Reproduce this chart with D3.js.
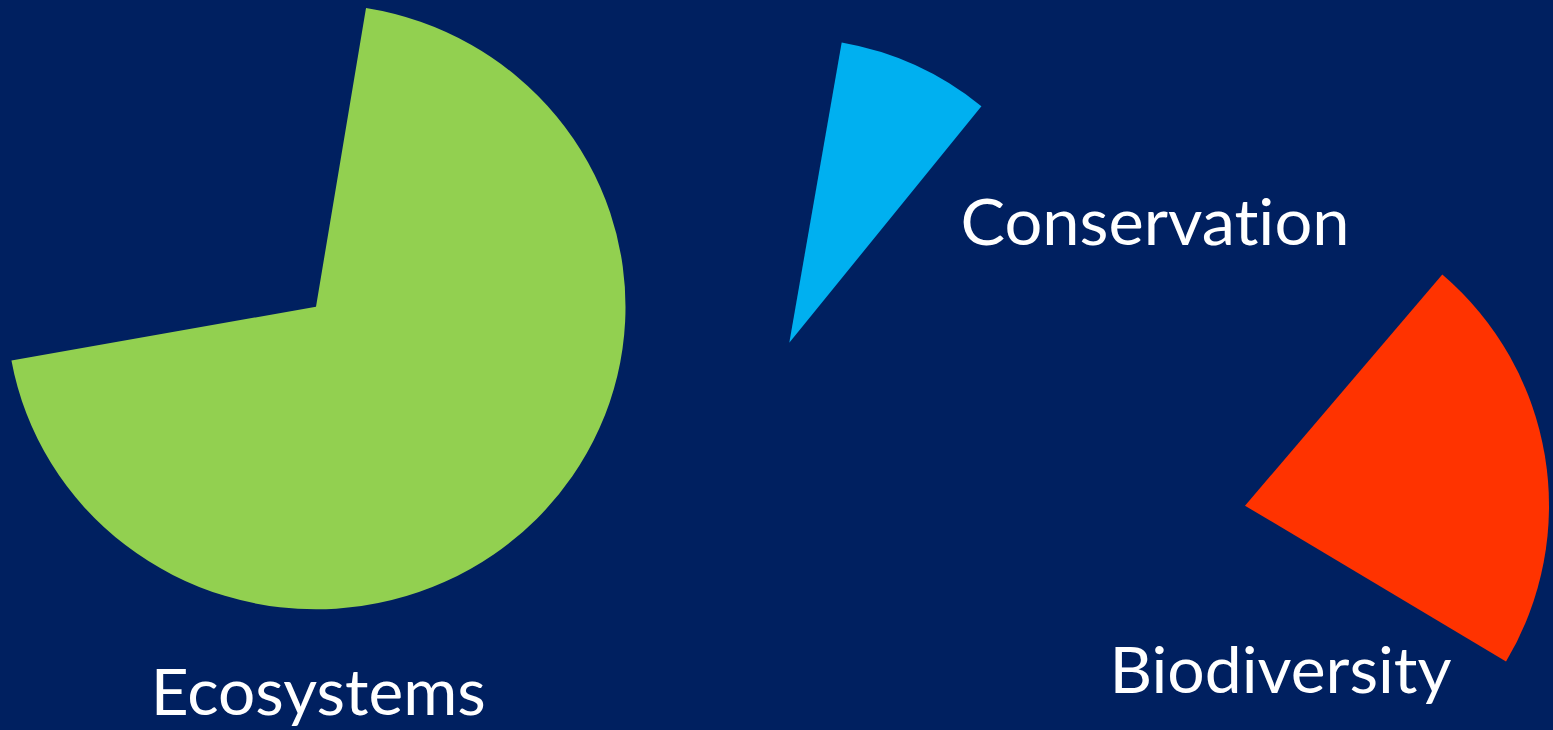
<!DOCTYPE html>
<html>
<head>
<meta charset="utf-8">
<script src="https://cdn.jsdelivr.net/npm/d3@7"></script>
<style>
  html, body { margin: 0; padding: 0; background: #002060; overflow: hidden; }
  svg { display: block; }
</style>
</head>
<body>
<svg id="chart" width="1553" height="730"></svg>
<script>
// Share of each theme (percent)
const categories = ["Ecosystems", "Conservation", "Biodiversity"];
const values = [69.5, 8.1, 22.3];
const colors = ["#92D050", "#00B0F0", "#FF3300"];

// Exploded placement of each slice: apex, radii, rotation of the slice start (degrees, clockwise from 12 o'clock)
const sliceLayout = [
  { cx: 316,    cy: 306.7, rx: 309.5, ry: 302.6, startDeg: 9.3 },
  { cx: 789.3,  cy: 342.7, rx: 304.7, ry: 304.7, startDeg: 9.9 },
  { cx: 1245,   cy: 505.7, rx: 304,   ry: 304,   startDeg: 40.47 }
];

// Label placement (centre x, baseline y, rendered width)
const labelLayout = [
  { x: 318.3,  y: 715,   w: 335 },
  { x: 1155,   y: 245.3, w: 389 },
  { x: 1280.5, y: 693.3, w: 342 }
];

const data = categories.map((c, i) => ({ name: c, value: values[i], color: colors[i] }));

const svg = d3.select("#chart");
svg.append("rect").attr("width", 1553).attr("height", 730).attr("fill", "#002060");

const pie = d3.pie().sort(null).value(d => d.value);
const arcs = pie(data);

const toRad = d => d * Math.PI / 180;

arcs.forEach((a, i) => {
  const L = sliceLayout[i];
  const span = a.endAngle - a.startAngle;
  const start = toRad(L.startDeg);
  const arcGen = d3.arc().innerRadius(0).outerRadius(L.ry);
  svg.append("path")
    .attr("transform", `translate(${L.cx},${L.cy}) scale(${L.rx / L.ry},1)`)
    .attr("d", arcGen({ startAngle: start, endAngle: start + span }))
    .attr("fill", a.data.color);
});

svg.selectAll("text.label")
  .data(data)
  .join("text")
  .attr("class", "label")
  .attr("x", (d, i) => labelLayout[i].x)
  .attr("y", (d, i) => labelLayout[i].y)
  .attr("text-anchor", "middle")
  .attr("textLength", (d, i) => labelLayout[i].w)
  .attr("lengthAdjust", "spacingAndGlyphs")
  .attr("fill", "#FFFFFF")
  .style("font-family", "Lato, 'Open Sans', sans-serif")
  .style("font-size", "63px")
  .style("font-variant-ligatures", "none")
  .style("font-feature-settings", "'liga' 0, 'clig' 0")
  .text(d => d.name);
</script>
</body>
</html>
